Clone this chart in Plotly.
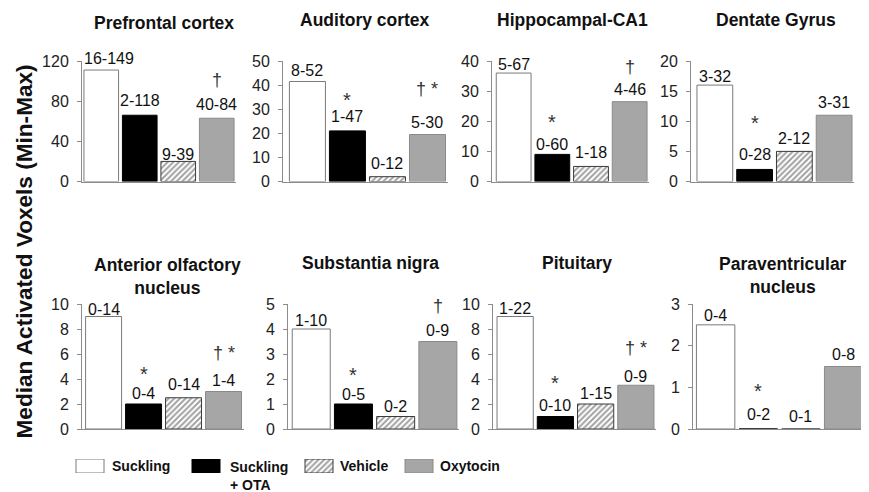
import plotly.graph_objects as go

# ---------------- data ----------------
regions = ["Prefrontal cortex", "Auditory cortex", "Hippocampal-CA1", "Dentate Gyrus",
           "Anterior olfactory<br>nucleus", "Substantia nigra", "Pituitary",
           "Paraventricular<br>nucleus"]
groups = ["Suckling", "Suckling + OTA", "Vehicle", "Oxytocin"]

suckling = [111, 41.5, 36, 16, 9, 4, 9, 2.5]
suckling_ota = [66, 21, 9, 2, 2, 1, 1, 0]
vehicle = [20, 2, 5, 5, 2.5, 0.5, 2, 0]
oxytocin = [63, 19.5, 26.5, 11, 3, 3.5, 3.5, 1.5]

suckling_range = ["16-149", "8-52", "5-67", "3-32", "0-14", "1-10", "1-22", "0-4"]
ota_range = ["2-118", "1-47", "0-60", "0-28", "0-4", "0-5", "0-10", "0-2"]
vehicle_range = ["9-39", "0-12", "1-18", "2-12", "0-14", "0-2", "1-15", "0-1"]
oxytocin_range = ["40-84", "5-30", "4-46", "3-31", "1-4", "0-9", "0-9", "0-8"]

ota_sig = ["", "*", "*", "*", "*", "*", "*", "*"]
oxytocin_sig = ["†", "† *", "†", "", "† *", "†", "† *", ""]

y_max = [120, 50, 40, 20, 10, 5, 10, 3]
y_dtick = [40, 10, 10, 5, 2, 1, 2, 1]

y_title = "Median Activated Voxels (Min-Max)"
legend_labels = ["Suckling", "Suckling<br>+ OTA", "Vehicle", "Oxytocin"]

# ---------------- layout constants (window pixels) ----------------
PAGE_OFF = 8            # default body margin of the page
W, H = 869 - PAGE_OFF, 492 - PAGE_OFF
panel_x = [(82, 236), (283, 447.5), (492, 649), (691, 854),
           (82, 243.5), (288, 459), (493, 656), (693, 865)]
panel_pad = [0.0, 0.11, 0.06, 0.10, 0.04, 0.05, 0.05, 0.03]
row_y = [(61, 181.5), (304, 429)]  # (top tick, zero line)
title_pos = [(164, 23), (365, 20.5), (572, 20.5), (776, 20.5),
             (167, 276), (370, 263), (577, 263), (783, 275)]
label_lift = [[12, 15, 7, 14], [11, 14, 13, 12], [9, 10, 14, 12], [9, 15, 13, 13],
              [7, 11, 13, 11], [9, 10, 10, 11], [8, 11, 11, 9], [9, 15, 13, 12]]
sig_lift = [[0, 38], [34, 46], [35, 35], [49, 0],
            [33, 39], [32, 36], [37, 37], [41, 0]]

def px_x(x):
    return (x - PAGE_OFF) / W

def px_y(y):
    return 1 - (y - PAGE_OFF) / H

FONT = "Liberation Sans, Arial, sans-serif"
fill_colors = ["#ffffff", "#000000", "#ffffff", "#a6a6a6"]
line_colors = ["#7a7a7a", "#000000", "#3a3a3a", "#8a8a8a"]
pattern_shapes = ["", "", "/", ""]
HATCH = dict(shape=pattern_shapes, fgcolor="#2a2a2a", bgcolor=fill_colors,
             size=4, solidity=0.5)

fig = go.Figure()
annotations = []

series = [suckling, suckling_ota, vehicle, oxytocin]
ranges = [suckling_range, ota_range, vehicle_range, oxytocin_range]

for i in range(8):
    k = i + 1
    xa = "x" if k == 1 else f"x{k}"
    ya = "y" if k == 1 else f"y{k}"
    vals = [s[i] for s in series]
    fig.add_trace(go.Bar(
        x=groups, y=vals, xaxis=xa, yaxis=ya, width=0.9,
        marker=dict(color=fill_colors, line=dict(color=line_colors, width=1),
                    pattern=HATCH),
        showlegend=False, hoverinfo="skip"))

    x0, x1 = panel_x[i]
    top, bot = row_y[i // 4]
    lay_x = dict(domain=[px_x(x0), min(1, px_x(x1))], range=[-0.5 - panel_pad[i], 3.5],
                 type="category", showline=True, linecolor="#8c8c8c", linewidth=1,
                 showticklabels=False, ticks="", showgrid=False, zeroline=False,
                 anchor=ya, fixedrange=True, automargin=False)
    lay_y = dict(domain=[px_y(bot), px_y(top)], range=[0, y_max[i]], dtick=y_dtick[i],
                 showline=True, linecolor="#8c8c8c", linewidth=1, ticks="outside",
                 ticklen=4, tickcolor="#8c8c8c",
                 tickfont=dict(family=FONT, size=16, color="#222"),
                 showgrid=False, zeroline=False, anchor=xa, ticklabelstandoff=5,
                 fixedrange=True, automargin=False)
    fig.update_layout(**{("xaxis" if k == 1 else f"xaxis{k}"): lay_x,
                         ("yaxis" if k == 1 else f"yaxis{k}"): lay_y})

    for j in range(4):
        annotations.append(dict(
            x=groups[j], y=vals[j], xref=xa, yref=ya, text=ranges[j][i],
            showarrow=False, yanchor="middle", xanchor="center",
            yshift=label_lift[i][j], xshift=(8 if (i == 0 and j == 0) else 0),
            font=dict(family=FONT, size=16, color="#111")))
    for j, sig, lift in ((1, ota_sig[i], sig_lift[i][0]), (3, oxytocin_sig[i], sig_lift[i][1])):
        if sig:
            star_only = sig == "*"
            annotations.append(dict(
                x=groups[j], y=vals[j], xref=xa, yref=ya, text=sig,
                showarrow=False, yanchor="middle", xanchor="center",
                yshift=lift - (3 if star_only else 0),
                font=dict(family=FONT, size=20 if star_only else 18, color="#333")))

    tx, ty = title_pos[i]
    annotations.append(dict(
        x=px_x(tx), y=px_y(ty), xref="paper", yref="paper", text=f"<b>{regions[i]}</b>",
        showarrow=False, xanchor="center", yanchor="middle",
        font=dict(family=FONT, size=17.5, color="#111")))

annotations.append(dict(
    x=px_x(23.5), y=px_y(252), xref="paper", yref="paper", text=f"<b>{y_title}</b>",
    textangle=-90, showarrow=False, xanchor="center", yanchor="middle",
    font=dict(family=FONT, size=22.6, color="#111")))

# legend (swatches on a hidden pixel axis)
legend_x = [90, 206, 319, 419]
legend_text_x = [110, 228, 338, 438]
fig.add_trace(go.Bar(
    x=legend_x, y=[1, 1, 1, 1], base=0, width=28, xaxis="x9", yaxis="y9",
    marker=dict(color=fill_colors, line=dict(color=line_colors, width=1), pattern=HATCH),
    showlegend=False, hoverinfo="skip"))
fig.update_layout(
    xaxis9=dict(domain=[0, 1], range=[PAGE_OFF, PAGE_OFF + W], visible=False, anchor="y9",
                fixedrange=True, automargin=False),
    yaxis9=dict(domain=[px_y(473), px_y(459)], range=[0, 1], visible=False, anchor="x9",
                fixedrange=True, automargin=False))
for j in range(4):
    two = "<br>" in legend_labels[j]
    annotations.append(dict(
        x=px_x(legend_text_x[j]), y=px_y(476 if two else 466), xref="paper", yref="paper",
        text=f"<b>{legend_labels[j]}</b>", showarrow=False, xanchor="left",
        yanchor="middle", align="left",
        font=dict(family=FONT, size=14, color="#111")))

fig.update_layout(
    width=W, height=H, margin=dict(l=0, r=0, t=0, b=0, autoexpand=False),
    paper_bgcolor="white", plot_bgcolor="white", barmode="overlay",
    annotations=annotations, font=dict(family=FONT))

fig.write_html("out.html")
